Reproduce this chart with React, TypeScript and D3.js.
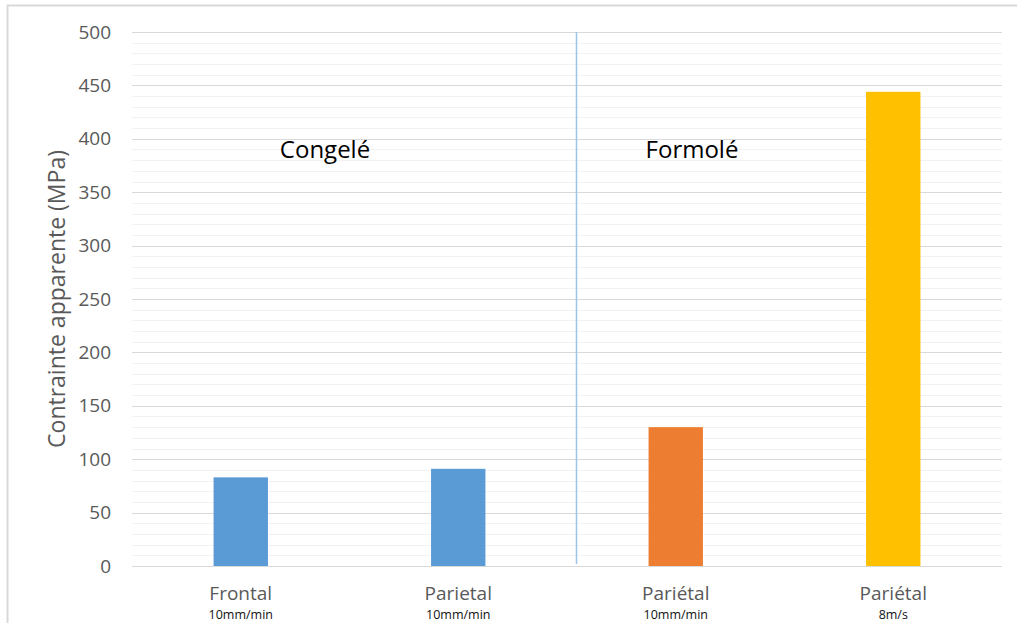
import { useEffect, useRef } from "react";
import * as d3 from "d3";

const categories = ["Frontal", "Parietal", "Pariétal", "Pariétal"];
const speeds = ["10mm/min", "10mm/min", "10mm/min", "8m/s"];
const values = [83, 91, 130, 444];
const colors = ["#5b9bd5", "#5b9bd5", "#ed7d31", "#ffc000"];
const majorTicks = [0, 50, 100, 150, 200, 250, 300, 350, 400, 450, 500];
const groups = [
  { label: "Congelé", x: 325 },
  { label: "Formolé", x: 692 },
];

const W = 1017;
const H = 623;
const FONT = "'Open Sans', 'Noto Sans', sans-serif";

export default function App() {
  const svgRef = useRef<SVGSVGElement>(null);

  useEffect(() => {
    const svg = d3.select(svgRef.current!);
    svg.selectAll("*").remove();

    const left = 132;
    const right = 1002;
    const top = 32;
    const bottom = 566;

    const x = d3
      .scaleBand<number>()
      .domain(d3.range(categories.length))
      .range([left, right])
      .padding(0);
    const y = d3.scaleLinear().domain([0, 500]).range([bottom, top]);

    // chart frame
    svg
      .append("path")
      .attr("d", `M7.5,${H}V5.5H${W}`)
      .attr("fill", "none")
      .attr("stroke", "#d9d9d9")
      .attr("stroke-width", 2);

    // minor gridlines
    const minor = d3.range(0, 501, 10).filter((v) => v % 50 !== 0);
    svg
      .append("g")
      .selectAll("line")
      .data(minor)
      .join("line")
      .attr("x1", left)
      .attr("x2", right)
      .attr("y1", (d) => Math.round(y(d)) + 0.5)
      .attr("y2", (d) => Math.round(y(d)) + 0.5)
      .attr("stroke", "#f2f2f2")
      .attr("stroke-width", 1);

    // major gridlines
    svg
      .append("g")
      .selectAll("line")
      .data(majorTicks)
      .join("line")
      .attr("x1", left)
      .attr("x2", right)
      .attr("y1", (d) => Math.round(y(d)) + 0.5)
      .attr("y2", (d) => Math.round(y(d)) + 0.5)
      .attr("stroke", "#d9d9d9")
      .attr("stroke-width", 1);

    // y tick labels
    svg
      .append("g")
      .selectAll("text")
      .data(majorTicks)
      .join("text")
      .attr("x", 111)
      .attr("y", (d) => y(d))
      .attr("dy", "0.35em")
      .attr("text-anchor", "end")
      .attr("fill", "#595959")
      .attr("font-family", FONT)
      .attr("font-size", 19)
      .text((d) => d);

    // y axis title
    svg
      .append("text")
      .attr("transform", `translate(65,${(top + bottom) / 2}) rotate(-90)`)
      .attr("text-anchor", "middle")
      .attr("fill", "#595959")
      .attr("font-family", FONT)
      .attr("font-size", 23)
      .text("Contrainte apparente (MPa)");

    // bars
    const barW = x.bandwidth() * 0.25;
    svg
      .append("g")
      .selectAll("rect")
      .data(values)
      .join("rect")
      .attr("x", (_d, i) => x(i)! + (x.bandwidth() - barW) / 2)
      .attr("y", (d) => y(d))
      .attr("width", barW)
      .attr("height", (d) => y(0) - y(d))
      .attr("fill", (_d, i) => colors[i]);

    // separator line
    svg
      .append("line")
      .attr("x1", 576.5)
      .attr("x2", 576.5)
      .attr("y1", top)
      .attr("y2", bottom - 2)
      .attr("stroke", "#9dc3e6")
      .attr("stroke-width", 1.5);

    // group labels
    svg
      .append("g")
      .selectAll("text")
      .data(groups)
      .join("text")
      .attr("x", (d) => d.x)
      .attr("y", 158)
      .attr("text-anchor", "middle")
      .attr("fill", "#000")
      .attr("font-family", FONT)
      .attr("font-size", 24)
      .text((d) => d.label);

    // x labels
    const xl = svg
      .append("g")
      .selectAll("g")
      .data(categories)
      .join("g")
      .attr("transform", (_d, i) => `translate(${x(i)! + x.bandwidth() / 2},0)`);
    xl.append("text")
      .attr("y", 600)
      .attr("text-anchor", "middle")
      .attr("fill", "#595959")
      .attr("font-family", FONT)
      .attr("font-size", 19)
      .text((d) => d);
    xl.append("text")
      .attr("y", 618.5)
      .attr("text-anchor", "middle")
      .attr("fill", "#111")
      .attr("font-family", FONT)
      .attr("font-size", 12.5)
      .text((_d, i) => speeds[i]);
  }, []);

  return (
    <svg
      ref={svgRef}
      width={W}
      height={H}
      style={{ position: "fixed", left: 0, top: 0, background: "#fff" }}
    />
  );
}
